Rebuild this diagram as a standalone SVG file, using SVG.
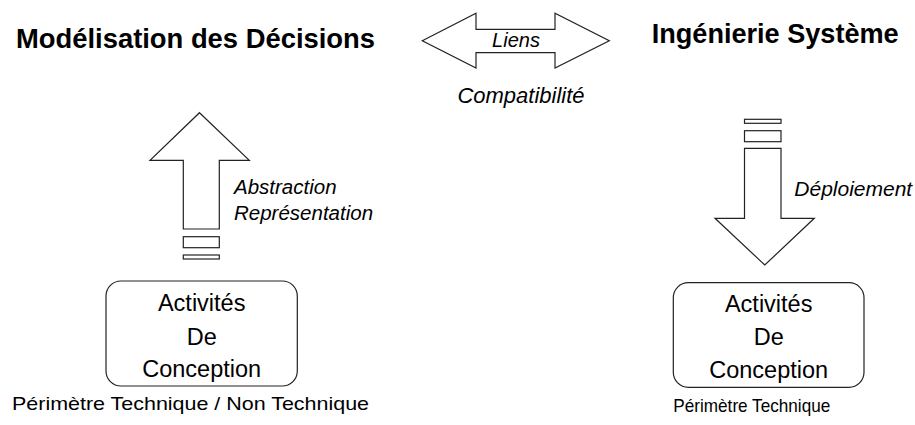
<svg xmlns="http://www.w3.org/2000/svg" width="915" height="425" viewBox="0 0 915 425">
<style>
.shape{fill:#fff;stroke:#222;stroke-width:1.2;stroke-linejoin:miter}
.title{font-family:"Liberation Sans",Arial,sans-serif;font-weight:bold;font-size:27px;fill:#000}
.lbl{font-family:"Liberation Sans",Arial,sans-serif;font-style:italic;fill:#000}
.box{font-family:"Liberation Sans",Arial,sans-serif;font-size:23.5px;fill:#000;text-anchor:middle}
.cap{font-family:"Liberation Sans",Arial,sans-serif;fill:#000}
</style>
<rect width="915" height="425" fill="#fff"/>
<g id="title-left"><text class="title" x="16" y="48.3" textLength="359" lengthAdjust="spacingAndGlyphs">Modélisation des Décisions</text></g>
<g id="title-right"><text class="title" x="651.7" y="42.7" textLength="247" lengthAdjust="spacingAndGlyphs">Ingénierie Système</text></g>
<g id="connectors">
<g id="liens">
<path class="shape" d="M422.3,40.7 L476,13.3 L476,29.3 L555,29.3 L555,13.3 L609.3,40.7 L555,68 L555,52.7 L476,52.7 L476,68 Z"/>
<text class="lbl" x="516" y="46.7" font-size="20" text-anchor="middle">Liens</text>
<text class="lbl" x="521" y="103.3" font-size="22" text-anchor="middle">Compatibilité</text>
</g>
<g id="abstraction">
<path class="shape" d="M199.5,112.7 L249.3,160.3 L219.3,160.3 L219.3,229 L183.3,229 L183.3,160.3 L150,160.3 Z"/>
<rect class="shape" x="183.3" y="236.7" width="36" height="11"/>
<rect class="shape" x="183.3" y="255" width="36" height="4"/>
<text class="lbl" x="234" y="194" font-size="20.5">Abstraction</text>
<text class="lbl" x="234" y="219.5" font-size="20.5">Représentation</text>
</g>
<g id="deploiement">
<rect class="shape" x="744.5" y="119.3" width="36.5" height="4"/>
<rect class="shape" x="744.5" y="130.7" width="36.5" height="11"/>
<path class="shape" d="M744.5,148.3 L781,148.3 L781,218.3 L814.3,218.3 L764.8,265 L715,218.3 L744.5,218.3 Z"/>
<text class="lbl" x="794.3" y="196" font-size="21">Déploiement</text>
</g>
</g>
<g id="box-left">
<rect class="shape" x="106" y="281" width="191.3" height="105" rx="15" ry="15"/>
<text class="box" x="201.7" y="311">Activités</text>
<text class="box" x="201.7" y="345">De</text>
<text class="box" x="201.7" y="377">Conception</text>
<text class="cap" x="12" y="410" font-size="18.5" textLength="357" lengthAdjust="spacingAndGlyphs">Périmètre Technique / Non Technique</text>
</g>
<g id="box-right">
<rect class="shape" x="673.3" y="282.7" width="190.7" height="104.6" rx="15" ry="15"/>
<text class="box" x="768.7" y="311.7">Activités</text>
<text class="box" x="768.7" y="345">De</text>
<text class="box" x="768.7" y="378.3">Conception</text>
<text class="cap" x="673.3" y="412" font-size="18.5" textLength="157" lengthAdjust="spacingAndGlyphs">Périmètre Technique</text>
</g>
</svg>
